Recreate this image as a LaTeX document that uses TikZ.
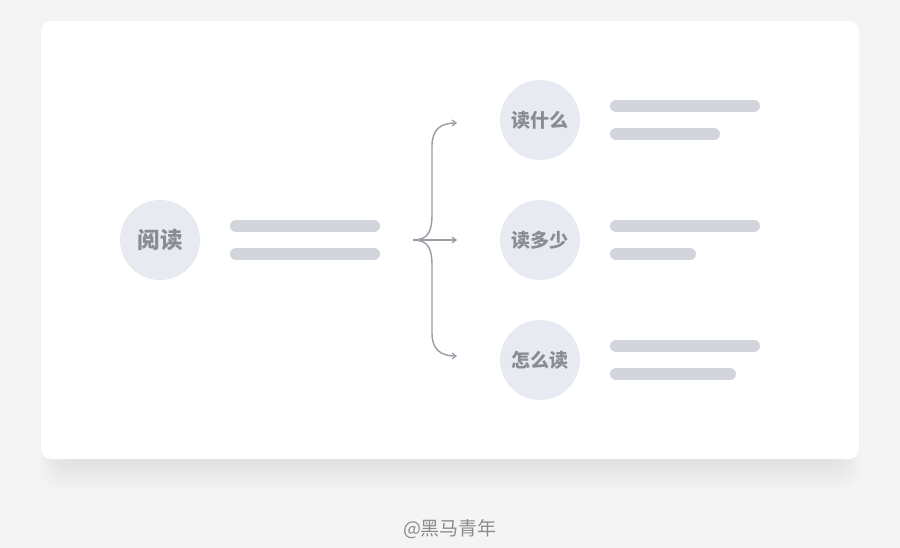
\documentclass[tikz,border=0pt]{standalone}
\usepackage{fontspec}
\newfontfamily\cjk{Noto Sans CJK SC}
\usetikzlibrary{arrows.meta}
\definecolor{pagebg}{HTML}{F4F4F4}
\definecolor{circfill}{HTML}{E8EAF1}
\definecolor{circtext}{HTML}{8A8B93}
\definecolor{barcol}{HTML}{D2D5DC}
\definecolor{arrcol}{HTML}{9A9CA6}
\definecolor{foottext}{HTML}{8C8C8C}
\definecolor{shadowcol}{HTML}{D0D2DE}
\tikzset{
  topic/.style={circle, fill=circfill, minimum size=80pt, inner sep=0pt, text=circtext, font=\cjk\bfseries\fontsize{19}{19}\selectfont},
  bigtopic/.style={topic, font=\cjk\bfseries\fontsize{22.5}{22.5}\selectfont},
  bar/.style={draw=barcol, line width=12pt, line cap=round},
  brace/.style={draw=arrcol, line width=1.4pt, -{Straight Barb[length=4pt,width=6pt,line width=1.2pt]}}
}
\begin{document}
\begin{tikzpicture}[x=1pt,y=-1pt]
\fill[pagebg] (0,0) rectangle (900,548);
\useasboundingbox (0,0) rectangle (900,548);
% shadow
\foreach \i in {1,...,24}{
  \fill[shadowcol, opacity=0.028, rounded corners=20pt] (66-\i*1.1,110+\i*0.6) rectangle (834+\i*1.1,452+\i*1.6);
}
% card
\fill[white, rounded corners=10pt] (41,21) rectangle (859,459);
% topics
\node[bigtopic] (read) at (160,240) {阅读};
\node[topic] (what) at (540,120) {读什么};
\node[topic] (much) at (540,240) {读多少};
\node[topic] (how) at (540,360) {怎么读};
% bars
\draw[bar] (236,226) -- (374,226);
\draw[bar] (236,254) -- (374,254);
\draw[bar] (616,106) -- (754,106);
\draw[bar] (616,134) -- (714,134);
\draw[bar] (616,226) -- (754,226);
\draw[bar] (616,254) -- (690,254);
\draw[bar] (616,346) -- (754,346);
\draw[bar] (616,374) -- (730,374);
% brace
\coordinate (tip) at (413,240);
\coordinate (e1) at (457,123);
\coordinate (e2) at (457,240);
\coordinate (e3) at (457,356);
\draw[brace] (tip) .. controls (428,240) and (432,232) .. (432,214) -- (432,146) .. controls (432,130) and (440,123) .. (e1);
\draw[brace] (tip) -- (e2);
\draw[brace] (tip) .. controls (428,240) and (432,248) .. (432,266) -- (432,333) .. controls (432,349) and (440,356) .. (e3);
% footer
\node[text=foottext, font=\cjk\fontsize{19}{19}\selectfont] (foot) at (450,529) {@黑马青年};
\end{tikzpicture}
\end{document}
